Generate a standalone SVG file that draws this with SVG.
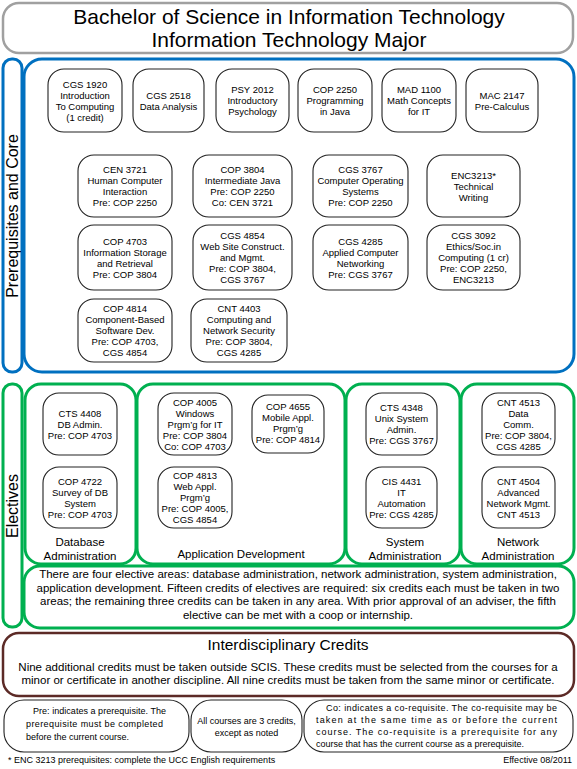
<svg xmlns="http://www.w3.org/2000/svg" width="577" height="769" viewBox="0 0 577 769">
<style>
.bg{fill:#fff}
.nd{fill:#fff;stroke:#222;stroke-width:1.1}
.t{font-family:"Liberation Sans",Arial,sans-serif;font-size:9.5px;fill:#000;text-anchor:middle}
.blue{fill:#fff;stroke:#0070c0;stroke-width:3}
.green{fill:#fff;stroke:#00b050;stroke-width:3}
.brown{fill:#fff;stroke:#5c2a26;stroke-width:2.5}
.lbl{font-family:"Liberation Sans",Arial,sans-serif;font-size:11.5px;fill:#000;text-anchor:middle}
.big{font-family:"Liberation Sans",Arial,sans-serif;fill:#000;text-anchor:middle}
.body{font-family:"Liberation Sans",Arial,sans-serif;font-size:11.5px;fill:#000;text-anchor:middle}
.sm{font-family:"Liberation Sans",Arial,sans-serif;font-size:9px;fill:#000}
</style>
<rect class="bg" x="0" y="0" width="577" height="769"/>

<g id="title">
<rect x="3" y="3" width="570" height="50" rx="16" fill="#fff" stroke="#a0a0a0" stroke-width="2.5"/>
<text class="big" x="289" y="24" font-size="21">Bachelor of Science in Information Technology</text>
<text class="big" x="289" y="47" font-size="21">Information Technology Major</text>
</g>

<g id="prereq-frame">
<rect class="blue" x="3" y="59" width="19" height="313" rx="9"/>
<text class="big" font-size="16" transform="translate(18,216) rotate(-90)">Prerequisites and Core</text>
<rect class="blue" x="24" y="59" width="550" height="313" rx="18"/>
</g>

<g id="cgs1920"><rect class="nd" x="48" y="69" width="74" height="63" rx="16"/>
<text class="t"><tspan x="85" y="88">CGS 1920</tspan><tspan x="85" y="99">Introduction</tspan><tspan x="85" y="110">To Computing</tspan><tspan x="85" y="121">(1 credit)</tspan></text></g>
<g id="cgs2518"><rect class="nd" x="133" y="69" width="71" height="63" rx="16"/>
<text class="t"><tspan x="168.5" y="98.5">CGS 2518</tspan><tspan x="168.5" y="109.5">Data Analysis</tspan></text></g>
<g id="psy2012"><rect class="nd" x="216" y="69" width="73" height="63" rx="16"/>
<text class="t"><tspan x="252.5" y="93">PSY 2012</tspan><tspan x="252.5" y="104">Introductory</tspan><tspan x="252.5" y="115">Psychology</tspan></text></g>
<g id="cop2250"><rect class="nd" x="298" y="69" width="74" height="63" rx="16"/>
<text class="t"><tspan x="335" y="93">COP 2250</tspan><tspan x="335" y="104">Programming</tspan><tspan x="335" y="115">in Java</tspan></text></g>
<g id="mad1100"><rect class="nd" x="382" y="69" width="74" height="63" rx="16"/>
<text class="t"><tspan x="419" y="93">MAD 1100</tspan><tspan x="419" y="104">Math Concepts</tspan><tspan x="419" y="115">for IT</tspan></text></g>
<g id="mac2147"><rect class="nd" x="466" y="69" width="72" height="63" rx="16"/>
<text class="t"><tspan x="502" y="98.5">MAC 2147</tspan><tspan x="502" y="109.5">Pre-Calculus</tspan></text></g>

<g id="cen3721"><rect class="nd" x="78" y="155" width="94" height="62" rx="16"/>
<text class="t"><tspan x="125" y="173">CEN 3721</tspan><tspan x="125" y="184">Human Computer</tspan><tspan x="125" y="195">Interaction</tspan><tspan x="125" y="206">Pre: COP 2250</tspan></text></g>
<g id="cop3804"><rect class="nd" x="193" y="155" width="99" height="62" rx="16"/>
<text class="t"><tspan x="242.5" y="173">COP 3804</tspan><tspan x="242.5" y="184">Intermediate Java</tspan><tspan x="242.5" y="195">Pre: COP 2250</tspan><tspan x="242.5" y="206">Co: CEN 3721</tspan></text></g>
<g id="cgs3767"><rect class="nd" x="313" y="155" width="95" height="62" rx="16"/>
<text class="t"><tspan x="360.5" y="173">CGS 3767</tspan><tspan x="360.5" y="184">Computer Operating</tspan><tspan x="360.5" y="195">Systems</tspan><tspan x="360.5" y="206">Pre: COP 2250</tspan></text></g>
<g id="enc3213"><rect class="nd" x="427" y="155" width="93" height="62" rx="16"/>
<text class="t"><tspan x="473.5" y="178.5">ENC3213*</tspan><tspan x="473.5" y="189.5">Technical</tspan><tspan x="473.5" y="200.5">Writing</tspan></text></g>

<g id="cop4703"><rect class="nd" x="78" y="225" width="94" height="65" rx="16"/>
<text class="t"><tspan x="125" y="244.5">COP 4703</tspan><tspan x="125" y="255.5">Information Storage</tspan><tspan x="125" y="266.5">and Retrieval</tspan><tspan x="125" y="277.5">Pre: COP 3804</tspan></text></g>
<g id="cgs4854"><rect class="nd" x="193" y="225" width="99" height="65" rx="16"/>
<text class="t"><tspan x="242.5" y="239">CGS 4854</tspan><tspan x="242.5" y="250">Web Site Construct.</tspan><tspan x="242.5" y="261">and Mgmt.</tspan><tspan x="242.5" y="272">Pre: COP 3804,</tspan><tspan x="242.5" y="283">CGS 3767</tspan></text></g>
<g id="cgs4285"><rect class="nd" x="313" y="225" width="95" height="65" rx="16"/>
<text class="t"><tspan x="360.5" y="244.5">CGS 4285</tspan><tspan x="360.5" y="255.5">Applied Computer</tspan><tspan x="360.5" y="266.5">Networking</tspan><tspan x="360.5" y="277.5">Pre: CGS 3767</tspan></text></g>
<g id="cgs3092"><rect class="nd" x="427" y="225" width="93" height="65" rx="16"/>
<text class="t"><tspan x="473.5" y="239">CGS 3092</tspan><tspan x="473.5" y="250">Ethics/Soc.in</tspan><tspan x="473.5" y="261">Computing (1 cr)</tspan><tspan x="473.5" y="272">Pre: COP 2250,</tspan><tspan x="473.5" y="283">ENC3213</tspan></text></g>

<g id="cop4814"><rect class="nd" x="78" y="299" width="94" height="63" rx="16"/>
<text class="t"><tspan x="125" y="312">COP 4814</tspan><tspan x="125" y="323">Component-Based</tspan><tspan x="125" y="334">Software Dev.</tspan><tspan x="125" y="345">Pre: COP 4703,</tspan><tspan x="125" y="356">CGS 4854</tspan></text></g>
<g id="cnt4403"><rect class="nd" x="191" y="299" width="96" height="63" rx="16"/>
<text class="t"><tspan x="239" y="312">CNT 4403</tspan><tspan x="239" y="323">Computing and</tspan><tspan x="239" y="334">Network Security</tspan><tspan x="239" y="345">Pre: COP 3804,</tspan><tspan x="239" y="356">CGS 4285</tspan></text></g>

<g id="electives-frame">
<rect class="green" x="3" y="384" width="19" height="243" rx="9"/>
<text class="big" font-size="16" transform="translate(18,506) rotate(-90)">Electives</text>
</g>
<g id="area-db"><rect class="green" x="25" y="384" width="111" height="180" rx="16"/>
<text class="lbl"><tspan x="80" y="546">Database</tspan><tspan x="80" y="560">Administration</tspan></text></g>
<g id="area-app"><rect class="green" x="137" y="384" width="208" height="180" rx="16"/>
<text class="lbl" x="241" y="558">Application Development</text></g>
<g id="area-sys"><rect class="green" x="346" y="384" width="114" height="180" rx="16"/>
<text class="lbl"><tspan x="405" y="546">System</tspan><tspan x="405" y="560">Administration</tspan></text></g>
<g id="area-net"><rect class="green" x="461" y="384" width="113" height="180" rx="16"/>
<text class="lbl"><tspan x="518" y="546">Network</tspan><tspan x="518" y="560">Administration</tspan></text></g>

<g id="cts4408"><rect class="nd" x="43" y="393" width="74" height="62" rx="16"/>
<text class="t"><tspan x="80" y="416.5">CTS 4408</tspan><tspan x="80" y="427.5">DB Admin.</tspan><tspan x="80" y="438.5">Pre: COP 4703</tspan></text></g>
<g id="cop4722"><rect class="nd" x="43" y="467" width="74" height="61" rx="16"/>
<text class="t"><tspan x="80" y="484.5">COP 4722</tspan><tspan x="80" y="495.5">Survey of DB</tspan><tspan x="80" y="506.5">System</tspan><tspan x="80" y="517.5">Pre: COP 4703</tspan></text></g>
<g id="cop4005"><rect class="nd" x="158" y="393" width="74" height="62" rx="16"/>
<text class="t"><tspan x="195" y="405.5">COP 4005</tspan><tspan x="195" y="416.5">Windows</tspan><tspan x="195" y="427.5">Prgm’g for IT</tspan><tspan x="195" y="438.5">Pre: COP 3804</tspan><tspan x="195" y="449.5">Co: COP 4703</tspan></text></g>
<g id="cop4655"><rect class="nd" x="252" y="395" width="72" height="58" rx="16"/>
<text class="t"><tspan x="288" y="410">COP 4655</tspan><tspan x="288" y="421">Mobile Appl.</tspan><tspan x="288" y="432">Prgm’g</tspan><tspan x="288" y="443">Pre: COP 4814</tspan></text></g>
<g id="cop4813"><rect class="nd" x="158" y="467" width="74" height="61" rx="16"/>
<text class="t"><tspan x="195" y="479">COP 4813</tspan><tspan x="195" y="490">Web Appl.</tspan><tspan x="195" y="501">Prgm’g</tspan><tspan x="195" y="512">Pre: COP 4005,</tspan><tspan x="195" y="523">CGS 4854</tspan></text></g>
<g id="cts4348"><rect class="nd" x="366" y="393" width="71" height="62" rx="16"/>
<text class="t"><tspan x="401.5" y="411">CTS 4348</tspan><tspan x="401.5" y="422">Unix System</tspan><tspan x="401.5" y="433">Admin.</tspan><tspan x="401.5" y="444">Pre: CGS 3767</tspan></text></g>
<g id="cis4431"><rect class="nd" x="366" y="467" width="71" height="61" rx="16"/>
<text class="t"><tspan x="401.5" y="484.5">CIS 4431</tspan><tspan x="401.5" y="495.5">IT</tspan><tspan x="401.5" y="506.5">Automation</tspan><tspan x="401.5" y="517.5">Pre: CGS 4285</tspan></text></g>
<g id="cnt4513"><rect class="nd" x="482" y="393" width="73" height="62" rx="16"/>
<text class="t"><tspan x="518.5" y="405.5">CNT 4513</tspan><tspan x="518.5" y="416.5">Data</tspan><tspan x="518.5" y="427.5">Comm.</tspan><tspan x="518.5" y="438.5">Pre: COP 3804,</tspan><tspan x="518.5" y="449.5">CGS 4285</tspan></text></g>
<g id="cnt4504"><rect class="nd" x="482" y="467" width="73" height="61" rx="16"/>
<text class="t"><tspan x="518.5" y="484.5">CNT 4504</tspan><tspan x="518.5" y="495.5">Advanced</tspan><tspan x="518.5" y="506.5">Network Mgmt.</tspan><tspan x="518.5" y="517.5">CNT 4513</tspan></text></g>

<g id="electives-note"><rect class="green" x="24" y="566" width="550" height="62" rx="16"/>
<text class="body"><tspan x="298" y="578">There are four elective areas: database administration, network administration, system administration,</tspan><tspan x="298" y="592">application development. Fifteen credits of electives are required: six credits each must be taken in two</tspan><tspan x="298" y="605">areas; the remaining three credits can be taken in any area. With prior approval of an adviser, the fifth</tspan><tspan x="298" y="619">elective can be met with a coop or internship.</tspan></text></g>

<g id="interdisciplinary"><rect class="brown" x="3" y="633" width="571" height="63" rx="16"/>
<text class="big" x="288" y="650" font-size="15.5">Interdisciplinary Credits</text>
<text class="body" font-size="11.6"><tspan x="288" y="671">Nine additional credits must be taken outside SCIS. These credits must be selected from the courses for a</tspan><tspan x="288" y="684">minor or certificate in another discipline. All nine credits must be taken from the same minor or certificate.</tspan></text></g>

<g id="note-pre"><rect class="nd" x="4" y="700" width="185" height="52" rx="20"/>
<text class="sm"><tspan x="33" y="714" textLength="133" lengthAdjust="spacing">Pre: indicates a prerequisite. The</tspan><tspan x="26" y="727" textLength="137" lengthAdjust="spacing">prerequisite must be completed</tspan><tspan x="26" y="740">before the current course.</tspan></text></g>
<g id="note-credits"><rect class="nd" x="191" y="700" width="111" height="52" rx="20"/>
<text class="sm" text-anchor="middle"><tspan x="246.5" y="724">All courses are 3 credits,</tspan><tspan x="246.5" y="736">except as noted</tspan></text></g>
<g id="note-co"><rect class="nd" x="304" y="700" width="269" height="52" rx="20"/>
<text class="sm"><tspan x="326" y="711" textLength="231" lengthAdjust="spacing">Co: indicates a co-requisite. The co-requisite may be</tspan><tspan x="316" y="723" textLength="241" lengthAdjust="spacing">taken at the same time as or before the current</tspan><tspan x="316" y="735" textLength="241" lengthAdjust="spacing">course. The co-requisite is a prerequisite for any</tspan><tspan x="316" y="747">course that has the current course as a prerequisite.</tspan></text></g>

<g id="footer">
<text class="sm" font-size="9.5" x="8" y="763">* ENC 3213 prerequisites: complete the UCC English requirements</text>
<text class="sm" font-size="9.5" x="572" y="763" text-anchor="end">Effective 08/2011</text>
</g>
</svg>
